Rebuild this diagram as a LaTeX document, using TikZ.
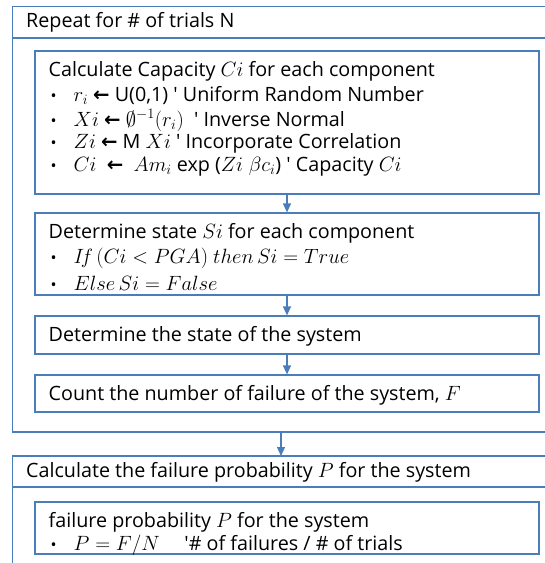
\documentclass[tikz,border=0pt]{standalone}
\usepackage{fontspec}
\setmainfont{Open Sans}
\newfontfamily\djv{DejaVu Sans}
\usetikzlibrary{arrows.meta}
\definecolor{lineblue}{RGB}{74,126,187}
\newcommand{\larr}{{\djv\bfseries ←}}
\newcommand{\bul}{\makebox[25bp][l]{\kern2bp{\fontsize{16}{16}\selectfont\textbullet}}}
\begin{document}
\begin{tikzpicture}[x=1bp,y=-1bp,
  box/.style={draw=lineblue,line width=1.2bp},
  txt/.style={anchor=west,inner sep=0pt,font=\fontsize{19.8}{22}\selectfont},
  conn/.style={draw=lineblue,line width=1.2bp,-{Triangle[length=9bp,width=8bp]}}]
\useasboundingbox (0,0) rectangle (545,563);
% outer box 1
\path[box] (12.7,6.5) rectangle (549,432);
\draw[box] (12.7,38) -- (549,38);
\node[txt] (h1) at (26,22.5) {Repeat for \# of trials N};
\coordinate (o1s) at (281,432);
% inner boxes
\node[box,minimum width=504bp,minimum height=143bp,inner sep=0pt] (b1) at (287,122.5) {};
\node[box,minimum width=504bp,minimum height=82bp,inner sep=0pt] (b2) at (287,254) {};
\node[box,minimum width=504bp,minimum height=38bp,inner sep=0pt] (b3) at (287,335) {};
\node[box,minimum width=504bp,minimum height=37bp,inner sep=0pt] (b4) at (287,393.5) {};
% box1 text
\node[txt] (t11) at (48.5,71) {Calculate Capacity $Ci$ for each component};
\node[txt] (t12) at (48.5,95.5) {\bul$r_i$ \larr\ U(0,1) \textquotesingle\ Uniform Random Number};
\node[txt] (t13) at (48.5,119) {\bul$Xi$ \larr\ \smash{$\emptyset^{-1}(r_i)$} \ \textquotesingle\ Inverse Normal};
\node[txt] (t14) at (48.5,143) {\bul$Zi$ \larr\ M $Xi$ \textquotesingle\ Incorporate Correlation};
\node[txt] (t15) at (48.5,167) {\bul$Ci$ \ \larr\ \ $Am_i$ exp ($Zi\;\beta c_i$) \textquotesingle\ Capacity $Ci$};
% box2 text
\node[txt] (t21) at (48.5,233) {Determine state $Si$ for each component};
\node[txt] (t22) at (48.5,258) {\bul$I\!f\,(Ci<PGA)\ then\,Si=True$};
\node[txt] (t23) at (48.5,283) {\bul$Else\,Si=False$};
\node[txt] (t31) at (48.5,336) {Determine the state of the system};
\node[txt] (t41) at (48.5,395) {Count the number of failure of the system, $F$};
% outer box 2
\path[box] (12.7,456) rectangle (549,580);
\draw[box] (12.7,487) -- (549,487);
\coordinate (o2n) at (281,456);
\node[txt] (h2) at (26,472) {Calculate the failure probability $P$ for the system};
\node[box,minimum width=504bp,minimum height=52bp,inner sep=0pt] (b5) at (287,528) {};
\node[txt] (t51) at (48.5,522) {failure probability $P$ for the system};
\node[txt] (t52) at (48.5,545) {\bul$P=F/N$\quad\ \textquotesingle\#\ of failures / \# of trials};
% connectors
\draw[conn] (b1.south) -- (b2.north);
\draw[conn] (b2.south) -- (b3.north);
\draw[conn] (b3.south) -- (b4.north);
\draw[conn] (o1s) -- (o2n);
\end{tikzpicture}
\end{document}
